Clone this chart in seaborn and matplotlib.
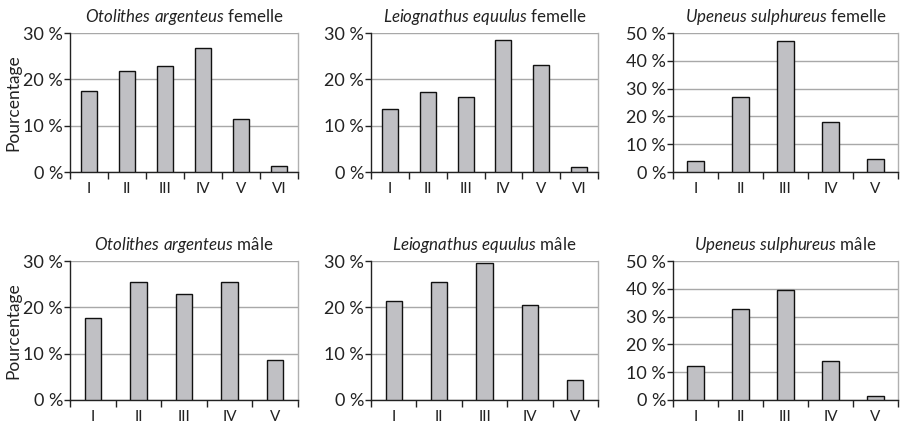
import matplotlib
matplotlib.use("Agg")
import matplotlib.pyplot as plt
import seaborn as sns
import pandas as pd
import numpy as np

sns.set_style("white")
plt.rcParams['font.family'] = ['Lato', 'DejaVu Sans']
plt.rcParams['mathtext.fontset'] = 'custom'
plt.rcParams['mathtext.rm'] = 'Lato'
plt.rcParams['mathtext.it'] = 'Lato:italic'

classes6 = ["I", "II", "III", "IV", "V", "VI"]
classes5 = ["I", "II", "III", "IV", "V"]

oto_f = [17.4, 21.8, 22.9, 26.8, 11.4, 1.2]
leio_f = [13.7, 17.3, 16.2, 28.4, 23.0, 1.0]
upe_f = [3.8, 26.8, 47.0, 18.1, 4.8]
oto_m = [17.8, 25.5, 22.8, 25.5, 8.6]
leio_m = [21.4, 25.5, 29.6, 20.6, 4.4]
upe_m = [12.1, 32.9, 39.7, 14.2, 1.6]

species = ["Otolithes argenteus", "Leiognathus equulus", "Upeneus sulphureus"]
sexes = ["femelle", "mâle"]
ymaxes = [30, 30, 50]

panels = [
    [(classes6, oto_f), (classes6, leio_f), (classes5, upe_f)],
    [(classes5, oto_m), (classes5, leio_m), (classes5, upe_m)],
]

fig = plt.figure(figsize=(9, 4.25), dpi=100)

lefts = [70 / 900, 371 / 900, 673 / 900]
widths = [228 / 900, 227 / 900, 225 / 900]
bottoms = [1 - 172 / 425, 1 - 400 / 425]
height = 139 / 425

for r in range(2):
    for c in range(3):
        cats, vals = panels[r][c]
        ax = fig.add_axes([lefts[c], bottoms[r], widths[c], height])
        df = pd.DataFrame({"classe": cats, "pct": vals})
        n = len(cats)
        bw = 0.42 if n == 6 else 0.36
        sns.barplot(data=df, x="classe", y="pct", color="#c0c0c4",
                    edgecolor="#111111", linewidth=1.0, width=bw, ax=ax,
                    saturation=1, zorder=3)
        ymax = ymaxes[c]
        ax.set_ylim(0, ymax)
        ax.set_xlim(-0.5, n - 0.5)
        yt = np.arange(0, ymax + 1, 10)
        ax.set_yticks(yt)
        ax.set_yticklabels([f"{v} %" for v in yt], fontsize=13, color="#222222")
        ax.yaxis.grid(True, color="#a8a8a8", linewidth=1.0, zorder=0)
        ax.xaxis.grid(False)
        ax.set_axisbelow(True)
        ax.set_xticks(range(n))
        ax.set_xticklabels(cats, fontsize=11, color="#222222")
        ax.set_xticks(np.arange(-0.5, n, 1.0), minor=True)
        ax.tick_params(axis="x", which="major", length=0, pad=7)
        ax.tick_params(axis="x", which="minor", length=5, width=1.0,
                       direction="out", color="#222222", bottom=True)
        ax.tick_params(axis="y", which="major", length=4, width=1.0,
                       direction="out", color="#222222", left=True, pad=1)
        for s in ["left", "bottom"]:
            ax.spines[s].set_color("#222222")
            ax.spines[s].set_linewidth(1.0)
        ax.spines["right"].set_visible(True)
        ax.spines["right"].set_color("#b0b0b0")
        ax.spines["right"].set_linewidth(1.0)
        ax.spines["top"].set_visible(False)
        ax.set_xlabel("")
        if c == 0:
            ax.set_ylabel("Pourcentage", fontsize=12.5, color="#222222", labelpad=1)
        else:
            ax.set_ylabel("")
        sp = species[c].replace(" ", r"\ ")
        ax.set_title(r"$\it{" + sp + r"}$ " + sexes[r], fontsize=12.2,
                     color="#222222", pad=8)

fig.savefig("out.png", dpi=100)
